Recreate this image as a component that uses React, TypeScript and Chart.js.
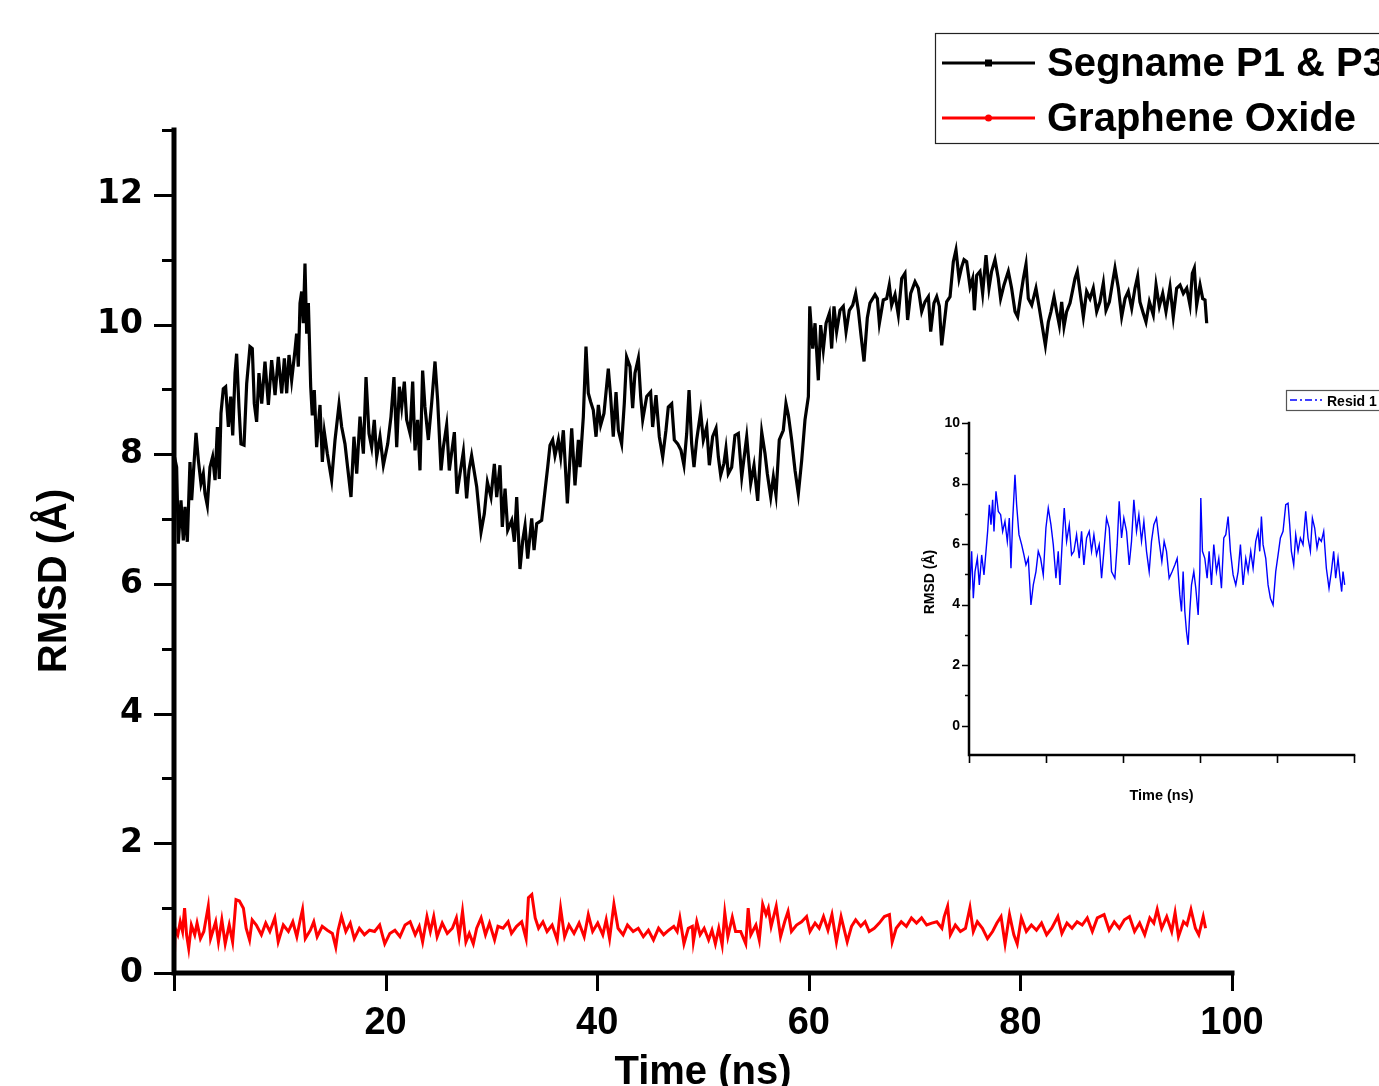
import React, { useEffect, useRef } from 'react';
import { Chart, registerables } from 'chart.js';
Chart.register(...registerables);

// ---------- data ----------
const mainSeriesNames = ['Segname P1 & P3', 'Graphene Oxide'];
const insetSeriesName = 'Resid 1';
const mainXTitle = 'Time (ns)';
const mainYTitle = 'RMSD (Å)';
const insetXTitle = 'Time (ns)';
const insetYTitle = 'RMSD (Å)';

const mainXTicks = [0, 20, 40, 60, 80, 100];
const mainYTicks = [0, 1, 2, 3, 4, 5, 6, 7, 8, 9, 10, 11, 12, 13];
const insetXTicks = [0, 20, 40, 60, 80, 100];
const insetYTicks = [0, 1, 2, 3, 4, 5, 6, 7, 8, 9, 10];

const blackX = [
  0, 0.12, 0.25, 0.41, 0.66, 0.88, 1.04, 1.26, 1.51, 1.67, 1.83, 2.08, 2.30, 2.55, 2.77, 2.93, 3.15, 3.40, 3.65, 3.88,
  4.10, 4.28, 4.44, 4.66, 4.88, 5.14, 5.36, 5.55, 5.77, 5.92, 6.14, 6.33, 6.62, 6.87, 7.18, 7.40, 7.59, 7.81, 8.03, 8.29,
  8.60, 8.92, 9.23, 9.55, 9.86, 10.18, 10.43, 10.65, 10.87, 11.12, 11.44, 11.59, 11.75, 11.91, 12.07, 12.22, 12.38, 12.54, 12.70, 12.92,
  13.07, 13.26, 13.48, 13.80, 14.02, 14.21, 14.49, 14.90, 15.22, 15.60, 15.85, 16.16, 16.41, 16.73, 17.01, 17.27, 17.58, 17.90, 18.15, 18.43,
  18.68, 18.93, 19.16, 19.47, 19.79, 20.20, 20.51, 20.79, 21.05, 21.30, 21.52, 21.77, 21.99, 22.31, 22.56, 22.78, 23.03, 23.25, 23.50, 23.72,
  24.04, 24.35, 24.67, 24.92, 25.24, 25.46, 25.77, 26.02, 26.50, 26.75, 27.03, 27.35, 27.66, 27.88, 28.13, 28.61, 29.02, 29.33, 29.62, 29.96,
  30.28, 30.50, 30.81, 31.03, 31.29, 31.54, 31.92, 32.17, 32.39, 32.70, 32.96, 33.18, 33.43, 33.81, 34.03, 34.28, 34.75, 35.07, 35.32, 35.54,
  35.79, 36.01, 36.33, 36.55, 36.80, 37.18, 37.59, 37.90, 38.22, 38.37, 38.69, 38.94, 39.16, 39.38, 39.63, 39.89, 40.11, 40.33, 40.64, 41.05,
  41.27, 41.52, 41.78, 42.00, 42.31, 42.56, 42.78, 43.10, 43.35, 43.57, 43.89, 44.11, 44.30, 44.68, 45.05, 45.24, 45.56, 45.87, 46.19, 46.50,
  46.72, 47.04, 47.29, 47.61, 47.92, 48.20, 48.46, 48.68, 48.93, 49.15, 49.40, 49.78, 50.03, 50.35, 50.60, 50.91, 51.23, 51.45, 51.67, 51.98,
  52.17, 52.39, 52.71, 53.02, 53.34, 53.66, 53.97, 54.13, 54.51, 54.82, 55.17, 55.55, 55.86, 56.08, 56.40, 56.65, 56.90, 57.21, 57.59, 57.84,
  58.07, 58.38, 58.70, 59.01, 59.33, 59.64, 59.96, 60.09, 60.37, 60.59, 60.90, 61.12, 61.37, 61.63, 61.94, 62.16, 62.38, 62.63, 62.95, 63.26,
  63.52, 63.83, 64.15, 64.43, 64.68, 64.93, 65.22, 65.53, 65.78, 66.26, 66.48, 66.67, 67.04, 67.36, 67.61, 67.83, 68.15, 68.46, 68.78, 69.09,
  69.34, 69.63, 70.04, 70.35, 70.67, 70.98, 71.30, 71.52, 71.83, 72.09, 72.34, 72.56, 72.78, 73.03, 73.35, 73.66, 73.91, 74.20, 74.45, 74.67,
  74.92, 75.24, 75.49, 75.65, 75.87, 76.18, 76.43, 76.75, 77.03, 77.28, 77.60, 77.91, 78.13, 78.45, 78.86, 79.17, 79.49, 79.74, 80.06, 80.28,
  80.53, 80.75, 81.07, 81.47, 81.79, 82.10, 82.36, 82.64, 82.89, 83.18, 83.43, 83.68, 83.90, 84.12, 84.37, 84.69, 84.94, 85.16, 85.38, 85.63,
  85.95, 86.26, 86.58, 86.89, 87.21, 87.52, 87.84, 88.09, 88.41, 88.72, 88.94, 89.26, 89.57, 89.89, 90.20, 90.52, 90.83, 91.08, 91.30, 91.62,
  91.87, 92.19, 92.56, 92.82, 93.13, 93.45, 93.76, 94.14, 94.45, 94.77, 95.09, 95.40, 95.72, 96.03, 96.25, 96.44, 96.66, 96.98, 97.23, 97.45, 97.61,
];
const blackY = [
  7.10, 7.90, 7.80, 6.62, 7.29, 6.67, 7.19, 6.65, 7.88, 7.29, 7.70, 8.33, 7.91, 7.55, 7.70, 7.39, 7.21, 7.80, 7.96, 7.60,
  8.42, 7.62, 8.63, 9.01, 9.04, 8.42, 8.89, 8.29, 9.25, 9.55, 8.73, 8.16, 8.14, 9.09, 9.66, 9.63, 8.78, 8.50, 9.25, 8.78,
  9.43, 8.76, 9.45, 8.91, 9.50, 8.94, 9.48, 8.94, 9.53, 9.14, 9.61, 9.86, 9.35, 10.33, 10.51, 10.02, 10.94, 9.86, 10.33, 9.04,
  8.60, 8.99, 8.11, 8.76, 7.88, 8.34, 8.01, 7.60, 8.22, 8.77, 8.42, 8.16, 7.80, 7.34, 8.27, 7.70, 8.58, 8.01, 9.19, 8.32,
  8.11, 8.53, 7.96, 8.27, 7.83, 8.16, 8.58, 9.19, 8.11, 9.04, 8.73, 9.12, 8.53, 8.32, 9.12, 8.06, 8.53, 7.75, 9.29, 8.73,
  8.22, 8.78, 9.43, 8.83, 7.75, 8.11, 8.45, 7.75, 8.34, 7.39, 7.70, 8.04, 7.32, 7.75, 7.98, 7.50, 6.80, 7.08, 7.57, 7.34,
  7.85, 7.34, 7.83, 6.88, 7.47, 6.83, 6.98, 6.65, 7.34, 6.23, 6.67, 6.90, 6.39, 7.01, 6.52, 6.93, 6.98, 7.44, 7.80, 8.14,
  8.22, 7.98, 8.22, 7.96, 8.37, 7.24, 8.40, 7.52, 8.22, 7.80, 8.58, 9.66, 8.94, 8.81, 8.68, 8.27, 8.76, 8.45, 8.63, 9.32,
  8.89, 8.27, 8.96, 8.37, 8.16, 8.78, 9.50, 9.35, 8.71, 9.25, 9.48, 8.89, 8.53, 8.89, 8.96, 8.42, 8.91, 8.27, 7.96, 8.37,
  8.73, 8.78, 8.22, 8.16, 8.06, 7.83, 8.32, 8.99, 8.16, 7.80, 8.22, 8.65, 8.22, 8.42, 7.83, 8.27, 8.40, 7.96, 7.68, 7.86,
  8.09, 7.70, 7.80, 8.29, 8.32, 7.65, 8.06, 8.27, 7.55, 7.83, 7.28, 8.34, 8.01, 7.70, 7.34, 7.65, 7.37, 8.22, 8.37, 8.78,
  8.60, 8.22, 7.75, 7.39, 7.91, 8.53, 8.89, 10.28, 9.63, 10.02, 9.14, 9.99, 9.61, 10.02, 10.17, 9.63, 10.28, 9.89, 10.22, 10.28,
  9.89, 10.22, 10.30, 10.48, 10.22, 9.84, 9.43, 10.10, 10.33, 10.46, 10.40, 10.02, 10.38, 10.40, 10.61, 10.30, 10.46, 10.15, 10.71, 10.79,
  10.07, 10.48, 10.66, 10.56, 10.20, 10.35, 10.43, 9.89, 10.33, 10.43, 10.28, 9.68, 9.99, 10.35, 10.43, 10.97, 11.15, 10.71, 10.89, 11.00,
  10.97, 10.58, 10.71, 10.22, 10.76, 10.82, 10.48, 11.07, 10.56, 10.82, 11.00, 10.71, 10.40, 10.61, 10.82, 10.56, 10.20, 10.12, 10.48, 10.71,
  10.93, 10.40, 10.30, 10.56, 10.25, 9.94, 9.68, 10.04, 10.20, 10.43, 10.20, 9.99, 10.35, 9.97, 10.20, 10.33, 10.53, 10.71, 10.82, 10.51,
  10.12, 10.51, 10.40, 10.56, 10.20, 10.35, 10.64, 10.22, 10.35, 10.66, 10.87, 10.56, 10.12, 10.40, 10.51, 10.25, 10.56, 10.74, 10.35, 10.17,
  10.04, 10.35, 10.15, 10.61, 10.28, 10.48, 10.20, 10.58, 10.12, 10.56, 10.61, 10.48, 10.56, 10.30, 10.79, 10.87, 10.30, 10.61, 10.40, 10.38, 10.02,
];

const redX = [
  0, 0.11, 0.36, 0.59, 0.81, 1.00, 1.19, 1.39, 1.64, 1.96, 2.18, 2.50, 2.82, 3.24, 3.46, 3.94, 4.20, 4.52, 4.84, 5.22,
  5.54, 5.86, 6.18, 6.56, 6.82, 7.14, 7.39, 7.78, 8.26, 8.67, 9.06, 9.53, 9.85, 10.33, 10.81, 11.23, 11.61, 11.93, 12.15, 12.41,
  12.89, 13.21, 13.53, 14.01, 14.49, 14.97, 15.29, 15.51, 15.83, 16.24, 16.66, 17.04, 17.52, 18.00, 18.48, 18.96, 19.44, 19.92, 20.40, 20.88,
  21.36, 21.84, 22.32, 22.80, 23.18, 23.50, 23.91, 24.23, 24.55, 24.87, 25.35, 25.83, 26.31, 26.69, 26.95, 27.27, 27.59, 27.91, 28.29, 28.61,
  29.03, 29.44, 29.82, 30.30, 30.62, 31.10, 31.58, 31.90, 32.38, 32.86, 33.28, 33.50, 33.82, 34.14, 34.46, 34.87, 35.26, 35.74, 36.22, 36.54,
  36.92, 37.33, 37.81, 38.29, 38.77, 39.16, 39.57, 40.05, 40.53, 40.85, 41.17, 41.58, 41.97, 42.45, 42.86, 43.40, 43.88, 44.36, 44.84, 45.32,
  45.80, 46.28, 46.76, 47.24, 47.56, 47.81, 48.20, 48.61, 48.99,
  49.09, 49.41, 49.73, 50.11, 50.53, 50.85, 51.17, 51.49, 51.81, 52.06, 52.35, 52.77, 53.08, 53.56, 54.04, 54.27, 54.52, 55.00, 55.32, 55.64,
  55.96, 56.18, 56.44, 56.92, 57.33, 57.72, 58.04, 58.36, 58.84, 59.32, 59.79, 60.11, 60.59, 60.98, 61.39, 61.81, 62.19, 62.61, 63.05, 63.63,
  64.04, 64.43, 64.91, 65.32, 65.71, 66.19, 66.66, 67.14, 67.62, 67.88, 68.26, 68.74, 69.22, 69.70, 70.18, 70.66, 71.14, 71.62, 72.10, 72.58,
  72.80, 73.12, 73.38, 73.85, 74.33, 74.81, 75.23, 75.55, 75.93, 76.41, 76.89, 77.37, 77.78, 78.17, 78.55, 78.97, 79.38, 79.70, 80.09, 80.56,
  81.04, 81.52, 82.00, 82.48, 82.96, 83.54, 83.92, 84.40, 84.88, 85.36, 85.84, 86.32, 86.80, 87.27, 87.91, 88.39, 88.87, 89.35, 89.83, 90.31,
  90.79, 91.27, 91.75, 92.23, 92.61, 92.93, 93.35, 93.83, 94.30, 94.62, 94.94, 95.42, 95.74, 96.12, 96.54, 96.86, 97.28, 97.50,
];
const redY = [
  0, 0.69, 0.59, 0.79, 0.64, 1.00, 0.59, 0.38, 0.74, 0.59, 0.77, 0.53, 0.64, 1.03, 0.53, 0.79, 0.48, 0.82, 0.45, 0.74,
  0.48, 1.13, 1.11, 1.00, 0.69, 0.51, 0.82, 0.74, 0.59, 0.77, 0.64, 0.85, 0.48, 0.74, 0.64, 0.79, 0.56, 0.82, 0.98, 0.53,
  0.66, 0.79, 0.56, 0.72, 0.66, 0.61, 0.40, 0.66, 0.87, 0.64, 0.77, 0.53, 0.69, 0.59, 0.66, 0.64, 0.74, 0.45, 0.61, 0.66,
  0.56, 0.74, 0.79, 0.59, 0.72, 0.48, 0.87, 0.64, 0.87, 0.56, 0.77, 0.61, 0.69, 0.85, 0.56, 0.95, 0.48, 0.61, 0.45, 0.69,
  0.85, 0.59, 0.77, 0.51, 0.72, 0.69, 0.79, 0.61, 0.72, 0.79, 0.53, 1.16, 1.21, 0.85, 0.69, 0.79, 0.64, 0.74, 0.51, 1.00,
  0.56, 0.74, 0.61, 0.77, 0.56, 0.90, 0.64, 0.77, 0.59, 0.82, 0.53, 1.06, 0.69, 0.59, 0.74, 0.64, 0.69, 0.56, 0.66, 0.51,
  0.69, 0.59, 0.66, 0.72, 0.64, 0.85, 0.45, 0.69, 0.72,
  0.48, 0.79, 0.59, 0.69, 0.51, 0.66, 0.45, 0.69, 0.43, 0.93, 0.56, 0.86, 0.64, 0.64, 0.45, 1.00, 0.59, 0.74, 0.51, 1.06,
  0.90, 1.00, 0.72, 1.03, 0.56, 0.79, 0.95, 0.64, 0.74, 0.79, 0.87, 0.64, 0.77, 0.69, 0.87, 0.66, 0.90, 0.48, 0.87, 0.48,
  0.72, 0.82, 0.72, 0.79, 0.64, 0.69, 0.77, 0.87, 0.90, 0.48, 0.69, 0.79, 0.72, 0.85, 0.77, 0.85, 0.74, 0.77, 0.79, 0.69,
  0.87, 1.03, 0.59, 0.74, 0.64, 0.69, 1.01, 0.64, 0.79, 0.69, 0.53, 0.64, 0.77, 0.87, 0.45, 0.90, 0.59, 0.45, 0.85, 0.64,
  0.74, 0.66, 0.77, 0.59, 0.69, 0.87, 0.61, 0.77, 0.69, 0.79, 0.74, 0.85, 0.64, 0.85, 0.90, 0.66, 0.79, 0.69, 0.82, 0.87,
  0.64, 0.77, 0.59, 0.85, 0.77, 0.98, 0.69, 0.87, 0.64, 0.93, 0.56, 0.79, 0.74, 0.98, 0.69, 0.59, 0.87, 0.69,
];

const blueX = [
  0, 0.05, 0.26, 0.69, 1.12, 1.56, 2.16, 2.68, 3.29, 3.89, 4.41, 4.84, 5.28, 5.71, 6.14, 6.49, 7.01, 7.61, 8.22, 8.74,
  9.34, 9.95, 10.47, 10.90, 11.33, 11.94, 12.37, 12.98, 13.67, 14.27, 14.79, 15.40, 16.09, 16.70, 17.39, 17.99, 18.60, 19.29, 19.98, 20.59,
  21.28, 21.89, 22.58, 23.18, 23.62, 24.31, 24.74, 25.35, 26.04, 26.64, 27.25, 27.94, 28.63, 29.24, 29.84, 30.54, 31.23, 31.83, 32.44, 33.13,
  33.82, 34.43, 35.03, 35.73, 36.42, 37.02, 37.89, 38.49, 39.01, 39.62, 40.22, 40.92, 41.61, 42.21, 42.82, 43.51, 44.12, 44.81, 45.42, 46.11,
  46.80, 47.40, 48.01, 48.70, 49.39, 50.09, 50.69, 51.30, 51.99, 52.77, 53.46, 54.07, 54.76, 55.19, 55.62, 56.06, 56.49, 56.92, 57.35, 57.79,
  58.39, 58.91, 59.52, 59.95, 60.21, 60.64, 61.25, 61.85, 62.37, 62.98, 63.58, 64.27, 64.88, 65.57, 66.18, 66.70, 67.30, 67.91, 68.60, 69.29,
  69.90, 70.50, 71.19, 71.89, 72.49, 73.18, 73.79, 74.48, 75.09, 75.52, 75.95, 76.38, 77.08, 77.68, 78.29, 78.98, 79.67, 80.28, 80.88, 81.57,
  82.27, 82.87, 83.30, 83.74, 84.34, 84.86, 85.47, 86.07, 86.76, 87.46, 88.06, 88.67, 89.19, 89.79, 90.40, 90.92, 91.52, 92.13, 92.82, 93.51,
  94.12, 94.72, 95.24, 95.85, 96.28, 96.80, 97.15, 97.58,
];
const blueY = [
  0, 4.80, 4.65, 5.76, 4.21, 5.09, 5.53, 4.65, 5.64, 4.98, 5.76, 6.42, 7.30, 6.64, 7.46, 6.42, 7.74, 7.08, 6.97, 6.42,
  6.75, 6.09, 6.86, 5.20, 6.75, 8.29, 7.30, 6.31, 5.98, 5.64, 5.31, 5.53, 3.99, 4.65, 5.09, 5.76, 5.53, 4.98, 6.53, 7.19,
  6.64, 5.98, 4.87, 5.76, 4.65, 6.31, 7.19, 6.09, 6.64, 5.64, 5.76, 6.31, 5.53, 6.42, 5.31, 6.20, 6.42, 5.76, 6.31, 5.64,
  5.98, 4.87, 5.76, 6.86, 6.53, 5.09, 4.87, 5.98, 7.41, 6.20, 6.86, 6.42, 5.31, 6.09, 7.46, 6.42, 6.97, 6.09, 6.75, 5.76,
  5.09, 6.09, 6.64, 6.86, 6.09, 5.42, 6.09, 5.76, 4.87, 5.09, 5.31, 5.53, 4.32, 3.77, 5.09, 3.77, 3.11, 2.67, 3.77, 4.65,
  5.09, 4.54, 3.66, 5.09, 7.52, 5.76, 5.53, 4.87, 5.76, 4.65, 5.98, 5.09, 5.53, 4.54, 6.20, 6.31, 6.91, 5.76, 4.98, 4.65,
  5.09, 5.98, 4.65, 5.53, 5.09, 5.76, 5.20, 6.09, 6.42, 5.76, 6.91, 5.98, 5.53, 4.65, 4.21, 3.99, 5.09, 5.64, 6.20, 6.42,
  7.30, 7.35, 6.64, 5.76, 5.31, 6.31, 5.76, 6.20, 5.98, 7.08, 6.20, 5.76, 6.86, 6.53, 5.87, 6.20, 6.09, 6.42, 5.20, 4.54,
  5.09, 5.76, 4.87, 5.53, 4.98, 4.43, 5.09, 4.65,
];

// ---------- helpers ----------
const FONT = '"Liberation Sans", Arial, sans-serif';
const pts = (xs: number[], ys: number[]) => {
  const n = Math.min(xs.length, ys.length);
  const out: { x: number; y: number }[] = [];
  for (let i = 0; i < n; i++) out.push({ x: xs[i], y: ys[i] });
  return out;
};

type LegendItem = { label: string; color: string; marker: 'square' | 'dot' | 'none'; dash: number[]; y: number };
type DecorCfg = {
  xTicks: number[]; yTicks: number[];
  xLen: number; yMajor: number; yMinor: number; tickWidth: number; axisWidth: number;
  yTitle: string; yTitleX: number; yTitleY: number; yTitleFont: string;
  legend: { x: number; y: number; w: number; h: number; lineX1: number; lineX2: number; lineWidth: number; textX: number; font: string; border: string; items: LegendItem[] };
};

const makeDecor = (cfg: DecorCfg) => ({
  id: 'decor',
  afterDatasetsDraw(chart: any) {
    const { ctx, chartArea: a } = chart;
    const xs = chart.scales.x;
    const ys = chart.scales.y;
    ctx.save();
    ctx.strokeStyle = '#000';
    ctx.lineCap = 'butt';
    ctx.lineWidth = cfg.tickWidth;
    ctx.beginPath();
    cfg.yTicks.forEach((v) => {
      const p = Math.round(ys.getPixelForValue(v)) + 0.5;
      const len = v % 2 === 0 ? cfg.yMajor : cfg.yMinor;
      ctx.moveTo(a.left, p);
      ctx.lineTo(a.left - len, p);
    });
    cfg.xTicks.forEach((v) => {
      const p = Math.round(xs.getPixelForValue(v)) + 0.5;
      ctx.moveTo(p, a.bottom);
      ctx.lineTo(p, a.bottom + cfg.xLen);
    });
    ctx.stroke();
    ctx.lineWidth = cfg.axisWidth;
    ctx.lineCap = 'square';
    ctx.lineJoin = 'miter';
    ctx.beginPath();
    ctx.moveTo(a.left, a.top);
    ctx.lineTo(a.left, a.bottom);
    ctx.lineTo(a.right, a.bottom);
    ctx.stroke();

    // y title
    ctx.save();
    ctx.fillStyle = '#000';
    ctx.font = cfg.yTitleFont;
    ctx.textAlign = 'center';
    ctx.textBaseline = 'middle';
    ctx.translate(cfg.yTitleX, cfg.yTitleY);
    ctx.rotate(-Math.PI / 2);
    ctx.fillText(cfg.yTitle, 0, 0);
    ctx.restore();

    // legend
    const L = cfg.legend;
    ctx.fillStyle = '#fff';
    ctx.fillRect(L.x, L.y, L.w, L.h);
    ctx.strokeStyle = L.border;
    ctx.lineWidth = 1.2;
    ctx.strokeRect(L.x + 0.5, L.y + 0.5, L.w, L.h);
    L.items.forEach((it) => {
      ctx.strokeStyle = it.color;
      ctx.lineWidth = L.lineWidth;
      ctx.lineCap = 'butt';
      ctx.setLineDash(it.dash);
      ctx.beginPath();
      ctx.moveTo(L.lineX1, it.y);
      ctx.lineTo(L.lineX2, it.y);
      ctx.stroke();
      ctx.setLineDash([]);
      const mx = (L.lineX1 + L.lineX2) / 2;
      ctx.fillStyle = it.color;
      if (it.marker === 'square') ctx.fillRect(mx - 3.5, it.y - 3.5, 7, 7);
      if (it.marker === 'dot') {
        ctx.beginPath();
        ctx.arc(mx, it.y, 3.5, 0, Math.PI * 2);
        ctx.fill();
      }
      ctx.fillStyle = '#000';
      ctx.font = L.font;
      ctx.textAlign = 'left';
      ctx.textBaseline = 'middle';
      ctx.fillText(it.label, L.textX, it.y + 2);
    });
    ctx.restore();
  },
});

export default function App() {
  const mainRef = useRef<HTMLCanvasElement>(null);
  const insetRef = useRef<HTMLCanvasElement>(null);

  useEffect(() => {
    if (!mainRef.current || !insetRef.current) return;

    const mainChart = new Chart(mainRef.current, {
      type: 'line',
      data: {
        datasets: [
          { label: mainSeriesNames[0], data: pts(blackX, blackY), borderColor: '#000000', borderWidth: 3.2, pointRadius: 0, tension: 0, fill: false },
          { label: mainSeriesNames[1], data: pts(redX, redY), borderColor: '#ff0000', borderWidth: 3, pointRadius: 0, tension: 0, fill: false },
        ],
      },
      options: {
        responsive: false,
        animation: false,
        events: [],
        layout: { padding: { top: 130, right: 147, left: 0, bottom: 0 } },
        plugins: { legend: { display: false }, tooltip: { enabled: false } },
        scales: {
          x: {
            type: 'linear', min: 0, max: 100,
            grid: { display: false, drawTicks: true, tickLength: 18 },
            border: { display: false },
            ticks: {
              stepSize: 20, padding: 10, color: '#000', maxRotation: 0, autoSkip: false,
              font: { family: FONT, size: 38, weight: 'bold' },
              callback: (v: any) => (v === 0 ? '' : String(v)),
            },
            title: { display: true, text: mainXTitle, color: '#000', font: { family: FONT, size: 40, weight: 'bold', lineHeight: 0.65 }, padding: 0 },
            afterFit: (s: any) => { s.height = 113; },
          },
          y: {
            type: 'linear', min: 0, max: 13,
            grid: { display: false, drawTicks: true, tickLength: 20 },
            border: { display: false },
            ticks: {
              stepSize: 1, padding: 11, color: '#000', autoSkip: false,
              font: { family: '"DejaVu Sans", sans-serif', size: 33, weight: 'bold' },
              callback: (v: any) => (Number(v) % 2 === 0 ? String(v) : ''),
            },
            afterFit: (s: any) => { s.width = 174; },
          },
        },
      },
      plugins: [
        makeDecor({
          xTicks: mainXTicks, yTicks: mainYTicks,
          xLen: 18, yMajor: 20, yMinor: 12, tickWidth: 3, axisWidth: 5,
          yTitle: mainYTitle, yTitleX: 55, yTitleY: 581, yTitleFont: `bold 40px ${FONT}`,
          legend: {
            x: 935, y: 33, w: 470, h: 110, lineX1: 942, lineX2: 1035, lineWidth: 3, textX: 1047,
            font: `bold 40px ${FONT}`, border: '#222',
            items: [
              { label: mainSeriesNames[0], color: '#000000', marker: 'square', dash: [], y: 63 },
              { label: mainSeriesNames[1], color: '#ff0000', marker: 'dot', dash: [], y: 118 },
            ],
          },
        }),
      ],
    } as any);

    const insetChart = new Chart(insetRef.current, {
      type: 'line',
      data: {
        datasets: [
          { label: insetSeriesName, data: pts(blueX, blueY), borderColor: '#0000ff', borderWidth: 1.4, pointRadius: 0, tension: 0, fill: false },
        ],
      },
      options: {
        responsive: false,
        animation: false,
        events: [],
        layout: { padding: { top: 43, right: 25, left: 0, bottom: 0 } },
        plugins: { legend: { display: false }, tooltip: { enabled: false } },
        scales: {
          x: {
            type: 'linear', min: 0, max: 100,
            grid: { display: false, drawTicks: true, tickLength: 8 },
            border: { display: false },
            ticks: { display: false, stepSize: 20 },
            title: { display: true, text: insetXTitle, color: '#000', font: { family: FONT, size: 14.5, weight: 'bold', lineHeight: 1.2 }, padding: { bottom: 15 } },
            afterFit: (s: any) => { s.height = 65; },
          },
          y: {
            type: 'linear', min: -0.97, max: 10,
            grid: { display: false, drawTicks: true, tickLength: 5 },
            border: { display: false },
            ticks: {
              stepSize: 1, padding: 4, color: '#000', autoSkip: false,
              font: { family: FONT, size: 14, weight: 'bold' },
              callback: (v: any) => (Number.isInteger(v) && v >= 0 && v % 2 === 0 ? String(v) : ''),
            },
            afterFit: (s: any) => { s.width = 69; },
          },
        },
      },
      plugins: [
        makeDecor({
          xTicks: insetXTicks, yTicks: insetYTicks,
          xLen: 8, yMajor: 7, yMinor: 4, tickWidth: 1.6, axisWidth: 2.5,
          yTitle: insetYTitle, yTitleX: 30, yTitleY: 202, yTitleFont: `bold 14px ${FONT}`,
          legend: {
            x: 386, y: 10, w: 110, h: 20, lineX1: 390, lineX2: 422, lineWidth: 1.6, textX: 427,
            font: `bold 14px ${FONT}`, border: '#555',
            items: [{ label: insetSeriesName, color: '#0000ff', marker: 'none', dash: [7, 3, 2, 3], y: 20 }],
          },
        }),
      ],
    } as any);

    return () => {
      mainChart.destroy();
      insetChart.destroy();
    };
  }, []);

  return (
    <div style={{ position: 'absolute', left: 0, top: 0, width: 1379, height: 1086, background: '#ffffff', overflow: 'hidden' }}>
      <canvas ref={mainRef} width={1379} height={1086} style={{ position: 'absolute', left: 0, top: 0, width: 1379, height: 1086, display: 'block' }} />
      <canvas ref={insetRef} width={479} height={440} style={{ position: 'absolute', left: 900, top: 380, width: 479, height: 440, display: 'block' }} />
    </div>
  );
}
